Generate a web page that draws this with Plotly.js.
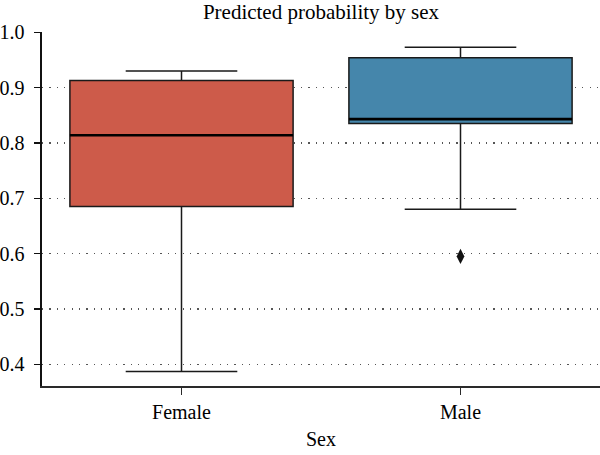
<!DOCTYPE html>
<html>
<head>
<meta charset="utf-8">
<script src="https://cdn.plot.ly/plotly-3.0.1.min.js"></script>
<style>
  html, body { margin: 0; padding: 0; background: #fff; }
  #chart { width: 600px; height: 455px; }
</style>
</head>
<body>
<div id="chart"></div>
<script>
// Box statistics of predicted probability, one entry per sex
const categories = ['Female', 'Male'];
const lowerWhisker = [0.387, 0.680];
const q1 = [0.685, 0.835];
const median = [0.814, 0.843];
const q3 = [0.913, 0.954];
const upperWhisker = [0.930, 0.973];
const boxColors = ['#cd5b4a', '#4586ab'];

// Points beyond the whiskers
const outlierSex = ['Male'];
const outlierValue = [0.595];

const yTicks = [0.4, 0.5, 0.6, 0.7, 0.8, 0.9, 1.0];

const serif = 'Liberation Serif, Times New Roman, serif';
const textSize = 20;

const traces = categories.map((c, i) => ({
  type: 'box',
  x: [c],
  q1: [q1[i]],
  median: [median[i]],
  q3: [q3[i]],
  lowerfence: [lowerWhisker[i]],
  upperfence: [upperWhisker[i]],
  width: 0.8,
  whiskerwidth: 0.5,
  fillcolor: boxColors[i],
  line: { color: '#1a1a1a', width: 1.5 },
  boxpoints: false,
  hoverinfo: 'skip',
  showlegend: false
}));

// Heavier median bar drawn on top of each box
categories.forEach((c, i) => {
  traces.push({
    type: 'box',
    x: [c],
    q1: [median[i]],
    median: [median[i]],
    q3: [median[i]],
    lowerfence: [median[i]],
    upperfence: [median[i]],
    width: 0.8,
    whiskerwidth: 0,
    fillcolor: 'rgba(0,0,0,0)',
    line: { color: '#000', width: 2.6 },
    boxpoints: false,
    hoverinfo: 'skip',
    showlegend: false
  });
});

traces.push({
  type: 'scatter',
  mode: 'markers',
  x: outlierSex,
  y: outlierValue,
  marker: { symbol: 'diamond-tall', size: 11, color: '#111', line: { width: 0 } },
  showlegend: false,
  hoverinfo: 'skip'
});

const layout = {
  width: 600,
  height: 455,
  margin: { l: 42, r: 0, t: 32, b: 69 },
  paper_bgcolor: '#fff',
  plot_bgcolor: '#fff',
  font: { family: serif, size: textSize, color: '#000' },
  title: {
    text: 'Predicted probability by sex',
    font: { family: serif, size: 21, color: '#000' },
    x: 0.535, xanchor: 'center',
    y: 0.975, yanchor: 'middle'
  },
  boxmode: 'overlay',
  xaxis: {
    type: 'category',
    categoryorder: 'array',
    categoryarray: categories,
    range: [-0.5, 1.5],
    showline: true,
    linecolor: '#2a2a2a',
    linewidth: 1.6,
    ticks: 'outside',
    ticklen: 7,
    tickwidth: 1.5,
    tickcolor: '#2a2a2a',
    showgrid: false,
    zeroline: false,
    tickfont: { family: serif, size: textSize, color: '#000' },
    title: { text: 'Sex', font: { family: serif, size: textSize, color: '#000' }, standoff: 10 }
  },
  yaxis: {
    range: [0.3608, 1.0005],
    tickvals: yTicks,
    tickformat: '.1f',
    showline: true,
    linecolor: '#111',
    linewidth: 1.6,
    ticks: 'outside',
    ticklen: 6,
    tickwidth: 1.5,
    tickcolor: '#111',
    ticklabelstandoff: 6,
    showgrid: true,
    gridcolor: '#555',
    gridwidth: 1.2,
    griddash: '1.2px,6.2px',
    zeroline: false,
    tickfont: { family: serif, size: textSize, color: '#000' }
  }
};

Plotly.newPlot('chart', traces, layout, { staticPlot: true, displayModeBar: false });
</script>
</body>
</html>
